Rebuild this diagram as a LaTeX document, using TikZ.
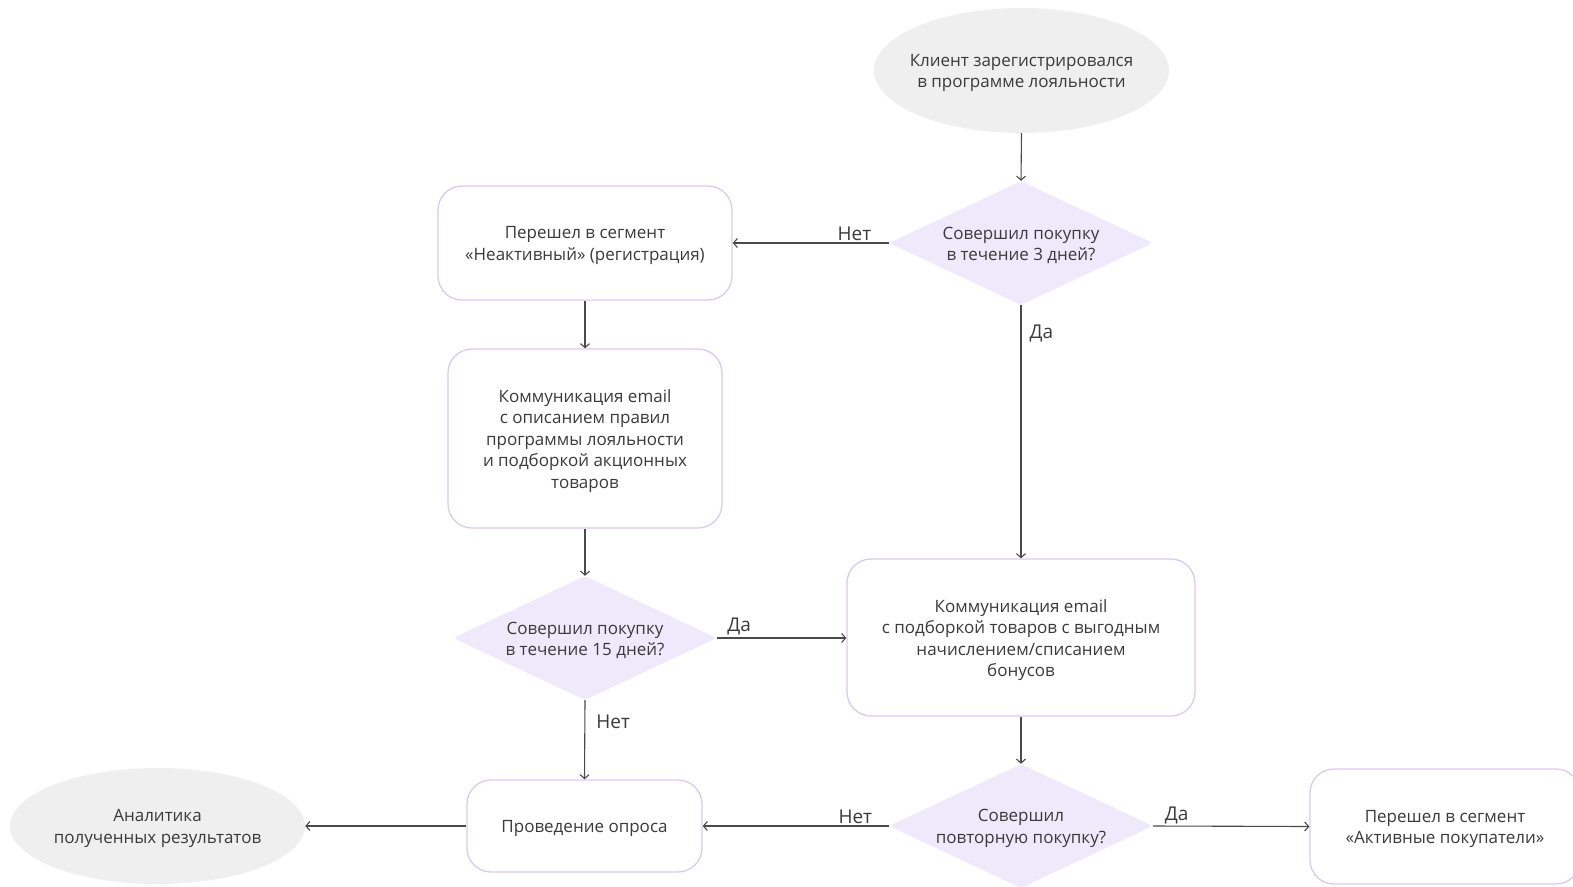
\documentclass[tikz,border=0pt]{standalone}
\usepackage{fontspec}
\setmainfont{Open Sans}
\usetikzlibrary{shapes.geometric,arrows.meta}
\definecolor{textgray}{HTML}{3A3A3A}
\definecolor{linegray}{HTML}{4A4A4A}
\definecolor{ellgray}{HTML}{EFEFEF}
\definecolor{diamfill}{HTML}{EEEAFB}
\definecolor{boxpurple}{HTML}{DCC9EE}
\begin{document}
\begin{tikzpicture}[x=1pt,y=-1pt,
  txt/.style={font=\fontsize{17}{21.5}\selectfont, text=textgray, align=center, inner sep=0pt, yshift=-2.5pt},
  say/.style={label={[txt]center:{#1}}},
  ell/.style={ellipse, fill=ellgray, draw=none, inner sep=0pt},
  box/.style={rectangle, rounded corners=24pt, draw=boxpurple, line width=1.3pt, fill=white, inner sep=0pt},
  diam/.style={diamond, fill=diamfill, draw=none, minimum width=264pt, minimum height=124pt, inner sep=0pt, rounded corners=4pt},
  lbl/.style={font=\fontsize{19}{22}\selectfont, text=textgray, inner sep=2pt},
  arr/.style={draw=linegray, line width=1.1pt, -{Straight Barb[length=4pt,width=9pt]}}
]
\useasboundingbox (0,0) rectangle (1573,886);
\clip (0,0) rectangle (1573,886);

% nodes
\node[ell, minimum width=295pt, minimum height=125pt,
  say={Клиент зарегистрировался\\в программе лояльности}] (e1) at (1021.5,70.5) {};
\node[diam, say={Совершил покупку\\в течение 3 дней?}] (d1) at (1021,243) {};
\node[box, minimum width=294pt, minimum height=114pt,
  say={Перешел в сегмент\\«Неактивный» (регистрация)}] (b1) at (585,243) {};
\node[box, minimum width=274pt, minimum height=179pt,
  say={Коммуникация email\\с описанием правил\\программы лояльности\\и подборкой акционных\\товаров}] (b2) at (585,438.5) {};
\node[diam, say={Совершил покупку\\в течение 15 дней?}] (d2) at (585,638) {};
\node[box, minimum width=348pt, minimum height=157pt,
  say={Коммуникация email\\с подборкой товаров с выгодным\\начислением/списанием\\бонусов}] (b3) at (1021,637.5) {};
\node[diam, say={Совершил\\повторную покупку?}] (d3) at (1021,826) {};
\node[box, minimum width=235pt, minimum height=92pt,
  say={Проведение опроса}] (b4) at (584.5,826) {};
\node[ell, minimum width=295pt, minimum height=116pt,
  say={Аналитика\\полученных результатов}] (e2) at (157.5,826) {};
\node[box, minimum width=270pt, minimum height=115pt,
  say={Перешел в сегмент\\«Активные покупатели»}] (b5) at (1445,826.5) {};

% connectors
\draw[arr] (e1.south) -- (d1.north);
\draw[arr] (d1.west) -- node[lbl, pos=0.22, above] {Нет} (b1.east);
\draw[arr] (d1.south) -- node[lbl, pos=0.11, right, xshift=6pt] {Да} (b3.north);
\draw[arr] (b1.south) -- (b2.north);
\draw[arr] (b2.south) -- (d2.north);
\draw[arr] (d2.east) -- node[lbl, pos=0.17, above] {Да} (b3.west |- d2.east);
\draw[arr] (d2.south) -- node[lbl, pos=0.27, right, xshift=9pt] {Нет} (b4.north);
\draw[arr] (b3.south) -- (d3.north);
\draw[arr] (d3.west) -- node[lbl, pos=0.18, above] {Нет} (b4.east);
\draw[arr] (d3.east) -- node[lbl, pos=0.15, above] {Да} (b5.west);
\draw[arr] (b4.west) -- (e2.east);
\end{tikzpicture}
\end{document}
